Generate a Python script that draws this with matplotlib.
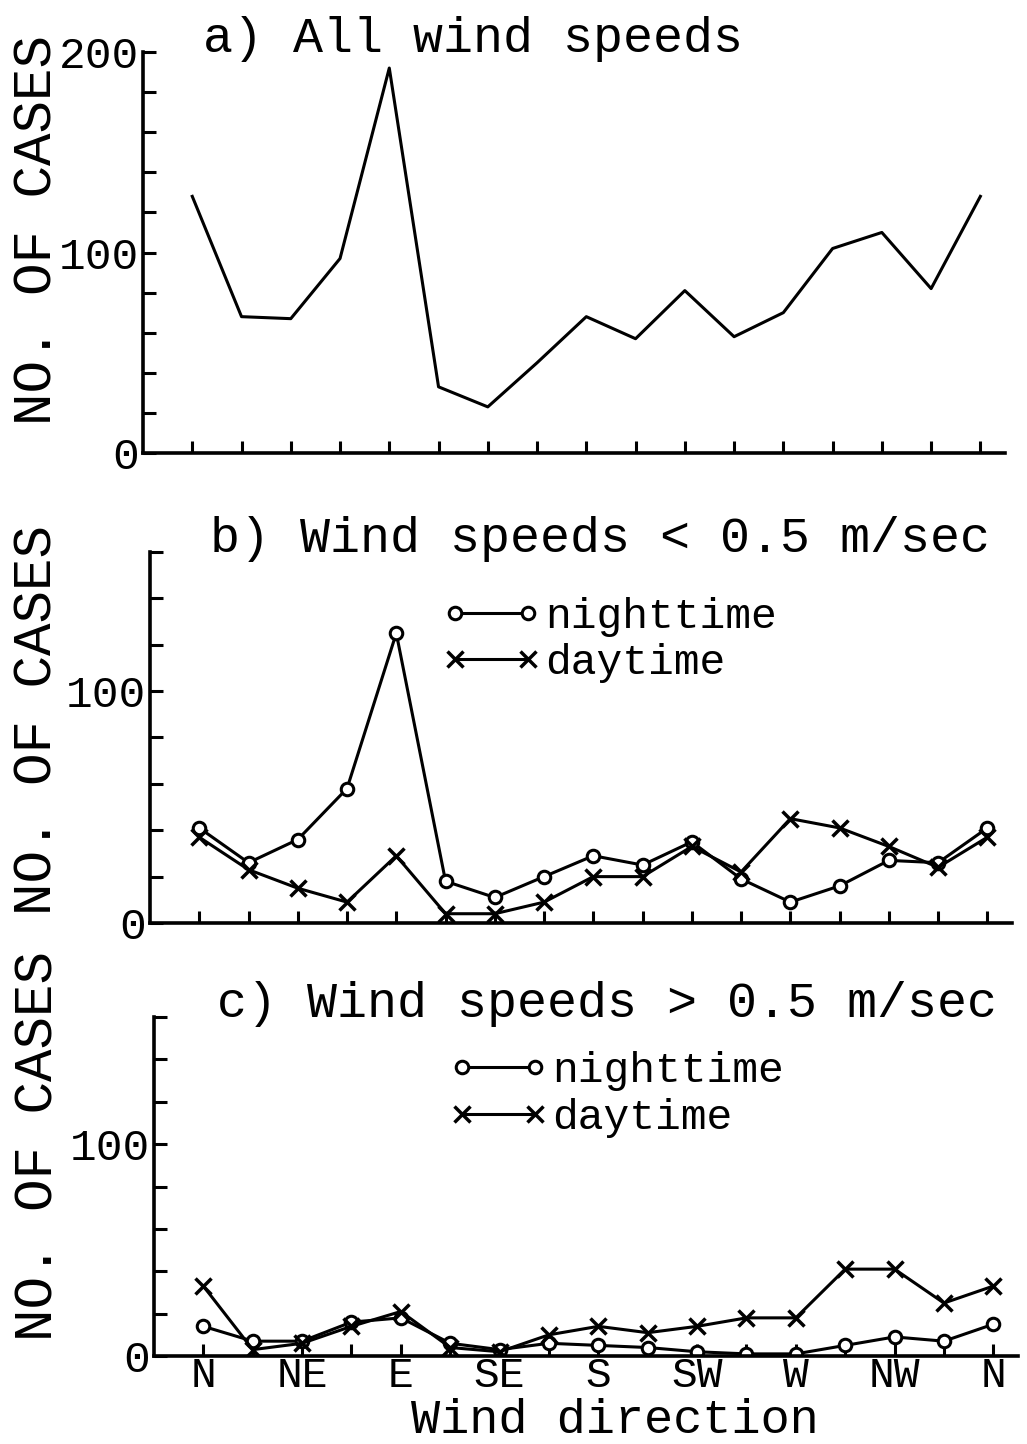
import numpy as np
import matplotlib.pyplot as plt

plt.rcParams['font.family'] = ['Liberation Mono', 'DejaVu Sans Mono']

# wind direction sectors, N round to N again
dir_labels = ['N', '', 'NE', '', 'E', '', 'SE', '', 'S', '', 'SW', '', 'W', '', 'NW', '', 'N']
x = np.arange(len(dir_labels))

# a) all wind speeds
all_speeds = [128, 68, 67, 97, 192, 33, 23, 45, 68, 57, 81, 58, 70, 102, 110, 82, 128]
# b) wind speeds < 0.5 m/sec
low_night = [41, 26, 36, 58, 125, 18, 11, 20, 29, 25, 35, 19, 9, 16, 27, 26, 41]
low_day = [37, 23, 15, 9, 29, 4, 4, 9, 20, 20, 33, 22, 45, 41, 33, 24, 37]
# c) wind speeds > 0.5 m/sec
high_night = [14, 7, 7, 16, 18, 6, 3, 6, 5, 4, 2, 1, 1, 5, 9, 7, 15]
high_day = [33, 3, 6, 14, 21, 4, 2, 10, 14, 11, 14, 18, 18, 41, 41, 25, 33]

W, H = 1027, 1444
fig = plt.figure(figsize=(W / 100, H / 100), dpi=100)


def add_ax(left, right, top, bottom):
    # pixel box -> figure fraction
    return fig.add_axes([left / W, 1 - bottom / H, (right - left) / W, (bottom - top) / H])


LW = 2.2
TITLE_FS = 36


def style(ax, ymax, ylab_x, ylab_y):
    ax.set_xlim(-1, 16.5)
    ax.set_ylim(0, ymax)
    for s in ['top', 'right']:
        ax.spines[s].set_visible(False)
    for s in ['left', 'bottom']:
        ax.spines[s].set_linewidth(2.6)
    ax.set_xticks(x)
    ax.set_yticks(np.arange(0, ymax + 1, 20))
    ax.set_yticklabels([str(v) if v % 100 == 0 else '' for v in np.arange(0, ymax + 1, 20)])
    ax.tick_params(direction='in', length=9, width=2.2, labelsize=32, pad=3)
    ax.text(ylab_x, ylab_y, 'NO. OF CASES', transform=ax.transAxes, rotation=90,
            fontsize=39, ha='center', va='center')


# panel a
ax1 = add_ax(143, 1005, 52, 453)
ax1.plot(x, all_speeds, color='black', lw=LW)
style(ax1, 200, -0.122, 0.556)
ax1.set_xticklabels([])
ax1.text(0.383, 1.0, 'a) All wind speeds', transform=ax1.transAxes,
         fontsize=TITLE_FS, ha='center', va='baseline')

# panel b
ax2 = add_ax(150, 1012, 552, 923)
ax2.plot(x, low_night, color='black', lw=LW, marker='o', ms=9, mfc='white', mew=2.2,
         label='nighttime')
ax2.plot(x, low_day, color='black', lw=LW, marker='x', ms=11, mew=2.5, label='daytime')
style(ax2, 160, -0.130, 0.547)
ax2.set_xticklabels([])
ax2.text(0.522, 1.0, 'b) Wind speeds < 0.5 m/sec', transform=ax2.transAxes,
         fontsize=TITLE_FS, ha='center', va='baseline')
ax2.legend(loc='center left', bbox_to_anchor=(0.339, 0.763), numpoints=2, frameon=False,
           fontsize=31, handlelength=2.3, handletextpad=0.1, labelspacing=0.15,
           borderpad=0, borderaxespad=0)

# panel c
ax3 = add_ax(154, 1018, 1017, 1356)
ax3.plot(x, high_night, color='black', lw=LW, marker='o', ms=9, mfc='white', mew=2.2,
         label='nighttime')
ax3.plot(x, high_day, color='black', lw=LW, marker='x', ms=11, mew=2.5, label='daytime')
style(ax3, 160, -0.134, 0.62)
ax3.set_xticklabels(dir_labels, fontsize=31)
ax3.tick_params(axis='x', pad=0)
ax3.text(0.524, 1.0, 'c) Wind speeds > 0.5 m/sec', transform=ax3.transAxes,
         fontsize=TITLE_FS, ha='center', va='baseline')
ax3.legend(loc='center left', bbox_to_anchor=(0.341, 0.771), numpoints=2, frameon=False,
           fontsize=31, handlelength=2.3, handletextpad=0.1, labelspacing=0.15,
           borderpad=0, borderaxespad=0)

fig.text(615 / W, 1 - 1433 / H, 'Wind direction', fontsize=35, ha='center',
         va='baseline')

fig.savefig('out.png', dpi=100)
